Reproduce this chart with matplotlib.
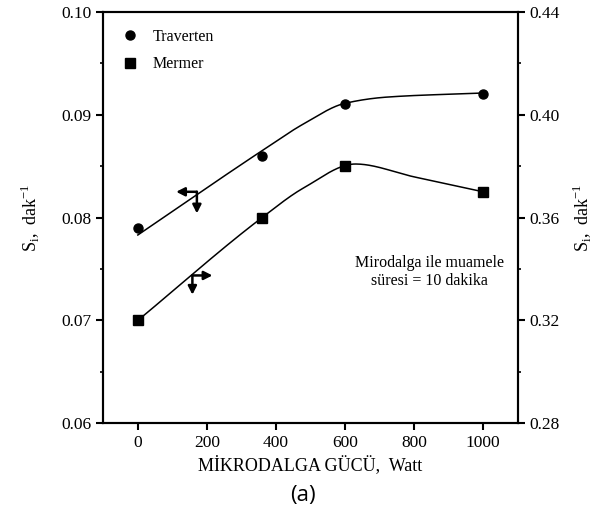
import numpy as np
import matplotlib
matplotlib.use("Agg")
import matplotlib.pyplot as plt
from matplotlib.ticker import MultipleLocator
from matplotlib.lines import Line2D

plt.rcParams['font.family'] = ['Liberation Serif', 'DejaVu Serif']
plt.rcParams['mathtext.fontset'] = 'custom'
plt.rcParams['mathtext.rm'] = 'Liberation Serif'

# measured points
power = [0, 360, 600, 1000]
traverten = [0.079, 0.086, 0.091, 0.092]      # left axis
mermer = [0.320, 0.360, 0.380, 0.370]         # right axis

# fitted curves (knots)
trav_fit_x = [0, 360, 480, 600, 720, 1000]
trav_fit_y = [0.0783, 0.0865, 0.0891, 0.0911, 0.0917, 0.0921]
merm_fit_x = [0, 360, 480, 630, 800, 1000]
merm_fit_y = [0.320, 0.360, 0.3715, 0.3808, 0.3758, 0.370]

xticks = [0, 200, 400, 600, 800, 1000]


def pchip(xs, ys, n=400):
    # monotone cubic through the knots
    x = np.asarray(xs, float)
    y = np.asarray(ys, float)
    h = np.diff(x)
    d = np.diff(y) / h
    m = np.zeros_like(y)
    for k in range(1, len(x) - 1):
        if d[k - 1] * d[k] > 0:
            w1 = 2 * h[k] + h[k - 1]
            w2 = h[k] + 2 * h[k - 1]
            m[k] = (w1 + w2) / (w1 / d[k - 1] + w2 / d[k])
    m[0] = d[0]
    m[-1] = d[-1]
    xx = np.linspace(x[0], x[-1], n)
    i = np.clip(np.searchsorted(x, xx) - 1, 0, len(x) - 2)
    t = (xx - x[i]) / h[i]
    h00 = 2 * t ** 3 - 3 * t ** 2 + 1
    h10 = t ** 3 - 2 * t ** 2 + t
    h01 = -2 * t ** 3 + 3 * t ** 2
    h11 = t ** 3 - t ** 2
    yy = h00 * y[i] + h10 * h[i] * m[i] + h01 * y[i + 1] + h11 * h[i] * m[i + 1]
    return xx, yy


fig = plt.figure(figsize=(5.95, 5.21), dpi=100)
ax = fig.add_axes([0.1736, 0.1875, 0.6965, 0.79])
ax2 = ax.twinx()

sx, sy = pchip(trav_fit_x, trav_fit_y)
ax.plot(sx, sy, color='black', lw=1.1)
ax.plot(power, traverten, 'o', color='black', ms=6.5)

mx, my = pchip(merm_fit_x, merm_fit_y)
ax2.plot(mx, my, color='black', lw=1.1)
ax2.plot(power, mermer, 's', color='black', ms=6.5)

ax.set_xlim(-100, 1100)
ax.set_ylim(0.06, 0.10)
ax2.set_ylim(0.28, 0.44)
ax.set_xticks(xticks)
ax.set_yticks([0.06, 0.07, 0.08, 0.09, 0.10])
ax.set_yticklabels(['0.06', '0.07', '0.08', '0.09', '0.10'])
ax2.set_yticks([0.28, 0.32, 0.36, 0.40, 0.44])
ax2.set_yticklabels(['0.28', '0.32', '0.36', '0.40', '0.44'])
ax.yaxis.set_minor_locator(MultipleLocator(0.005))
ax2.yaxis.set_minor_locator(MultipleLocator(0.02))

for a in (ax, ax2):
    for s in a.spines.values():
        s.set_linewidth(1.5)
    a.tick_params(which='major', direction='out', length=5, width=1.5, labelsize=12.5)
    a.tick_params(which='minor', direction='out', length=2.5, width=1.2)
ax.tick_params(top=False)

ax.set_xlabel('MİKRODALGA GÜCÜ,  Watt', fontsize=13, labelpad=3)
ax.set_ylabel(r'S$_\mathregular{i}$,  dak$^\mathregular{-1}$', fontsize=13, labelpad=14)
ax2.set_ylabel(r'S$_\mathregular{i}$,  dak$^\mathregular{-1}$', fontsize=13, labelpad=8)

# direction arrows
arr = dict(arrowstyle='-|>,head_length=0.55,head_width=0.28', lw=1.8, color='black',
           mutation_scale=9, shrinkA=0, shrinkB=0)
ax.annotate('', xy=(111, 0.0825), xytext=(171, 0.0825), arrowprops=arr)
ax.annotate('', xy=(171, 0.0804), xytext=(171, 0.0825), arrowprops=arr)
ax.annotate('', xy=(216, 0.07437), xytext=(158, 0.07437), arrowprops=arr)
ax.annotate('', xy=(158, 0.0725), xytext=(158, 0.07437), arrowprops=arr)

ax.text(845, 0.0747, 'Mirodalga ile muamele\nsüresi = 10 dakika', ha='center', va='center',
        fontsize=11.5, linespacing=1.15)

handles = [Line2D([], [], ls='none', marker='o', color='black', ms=6.5),
           Line2D([], [], ls='none', marker='s', color='black', ms=6.5)]
ax.legend(handles, ['Traverten', 'Mermer'], loc='upper left', bbox_to_anchor=(0.045, 0.958),
          frameon=False, fontsize=11.5, handlelength=1, handletextpad=0.95, labelspacing=0.7,
          borderpad=0, borderaxespad=0)

fig.text(0.509, 0.048, '(a)', ha='center', va='center', fontsize=16, family='Open Sans')

fig.savefig('out.png', dpi=100)
